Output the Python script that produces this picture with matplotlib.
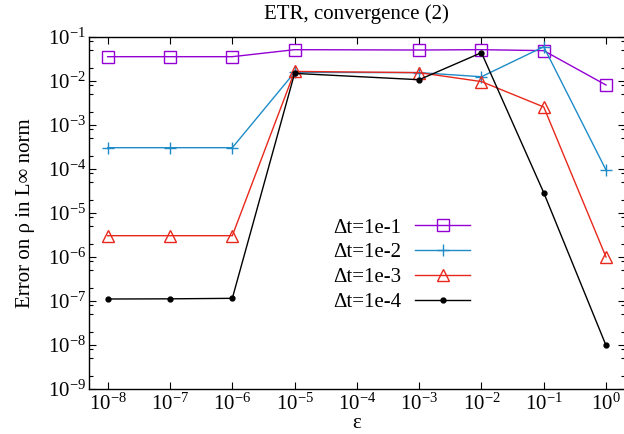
import numpy as np
import matplotlib
matplotlib.use("Agg")
import matplotlib.pyplot as plt
from matplotlib.ticker import LogLocator, FixedLocator, FuncFormatter, NullFormatter

plt.rcParams['font.family'] = ['Liberation Serif', 'DejaVu Serif']
plt.rcParams['mathtext.fontset'] = 'custom'
plt.rcParams['mathtext.rm'] = 'Liberation Serif'
plt.rcParams['mathtext.it'] = 'Liberation Serif:italic'

eps = [1e-8, 1e-7, 1e-6, 1e-5, 1e-3, 1e-2, 1e-1, 1e0]
err_dt1 = [0.0357, 0.0357, 0.0357, 0.0515, 0.0506, 0.0515, 0.049, 0.0081]
err_dt2 = [3.05e-4, 3.05e-4, 3.05e-4, 0.0157, 0.0155, 0.0125, 0.060, 9.5e-5]
err_dt3 = [3.05e-6, 3.05e-6, 3.05e-6, 0.0165, 0.0155, 0.0097, 0.00257, 1.0e-6]
err_dt4 = [1.11e-7, 1.12e-7, 1.15e-7, 0.0149, 0.0107, 0.044, 2.9e-5, 9.8e-9]
labels = ['Δt=1e-1', 'Δt=1e-2', 'Δt=1e-3', 'Δt=1e-4']
xticks = [1e-8, 1e-7, 1e-6, 1e-5, 1e-4, 1e-3, 1e-2, 1e-1, 1e0]
yticks = [1e-9, 1e-8, 1e-7, 1e-6, 1e-5, 1e-4, 1e-3, 1e-2, 1e-1]

W, H = 624, 434
fig = plt.figure(figsize=(W/100, H/100), dpi=100)
ax = fig.add_axes([89/W, (H-389)/H, 535.75/W, 352/H])

fs = 15
ax.plot(eps, err_dt1, color='#9400d3', lw=1, marker='s', ms=8, mfc='none', mew=1, label=labels[0])
ax.plot(eps, err_dt2, color='#1f8cc8', lw=1, marker='+', ms=9, mew=1, label=labels[1])
ax.plot(eps, err_dt3, color='#e8281c', lw=1, marker='^', ms=8, mfc='none', mew=1, label=labels[2])
ax.plot(eps, err_dt4, color='black', lw=1, marker='o', ms=3.5, label=labels[3])

ax.set_xscale('log')
ax.set_yscale('log')
ax.set_xlim(5e-9, 2)
ax.set_ylim(1e-9, 1e-1)

fmt = FuncFormatter(lambda v, p: r'$10^{%d}$' % int(round(np.log10(v))))
ax.xaxis.set_major_locator(FixedLocator(xticks))
ax.yaxis.set_major_locator(FixedLocator(yticks))
ax.xaxis.set_major_formatter(fmt)
ax.yaxis.set_major_formatter(fmt)
ax.xaxis.set_minor_locator(FixedLocator([]))
ax.yaxis.set_minor_locator(LogLocator(base=10, subs=(2, 5, 8)))
ax.yaxis.set_minor_formatter(NullFormatter())

ax.tick_params(which='both', direction='in', top=True, right=True, labelsize=fs, width=0.8)
ax.tick_params(which='major', length=5)
ax.tick_params(which='minor', length=3)
ax.tick_params(axis='x', which='major', pad=3)
ax.tick_params(axis='y', which='major', pad=2)
for s in ax.spines.values():
    s.set_linewidth(1)

ax.set_title('ETR, convergence (2)', fontsize=fs, pad=13)
ax.set_xlabel('ε', fontsize=fs, labelpad=0)
ax.set_ylabel('Error on ρ in L∞ norm', fontsize=fs, labelpad=9)

leg = ax.legend(loc='upper left', bbox_to_anchor=((333-89)/535.75, (389-218)/352),
                frameon=False, markerfirst=False, fontsize=fs, borderpad=0,
                borderaxespad=0, handlelength=2.64, handletextpad=0.67,
                labelspacing=0.25, numpoints=1)

fig.savefig('out.png', dpi=100)
